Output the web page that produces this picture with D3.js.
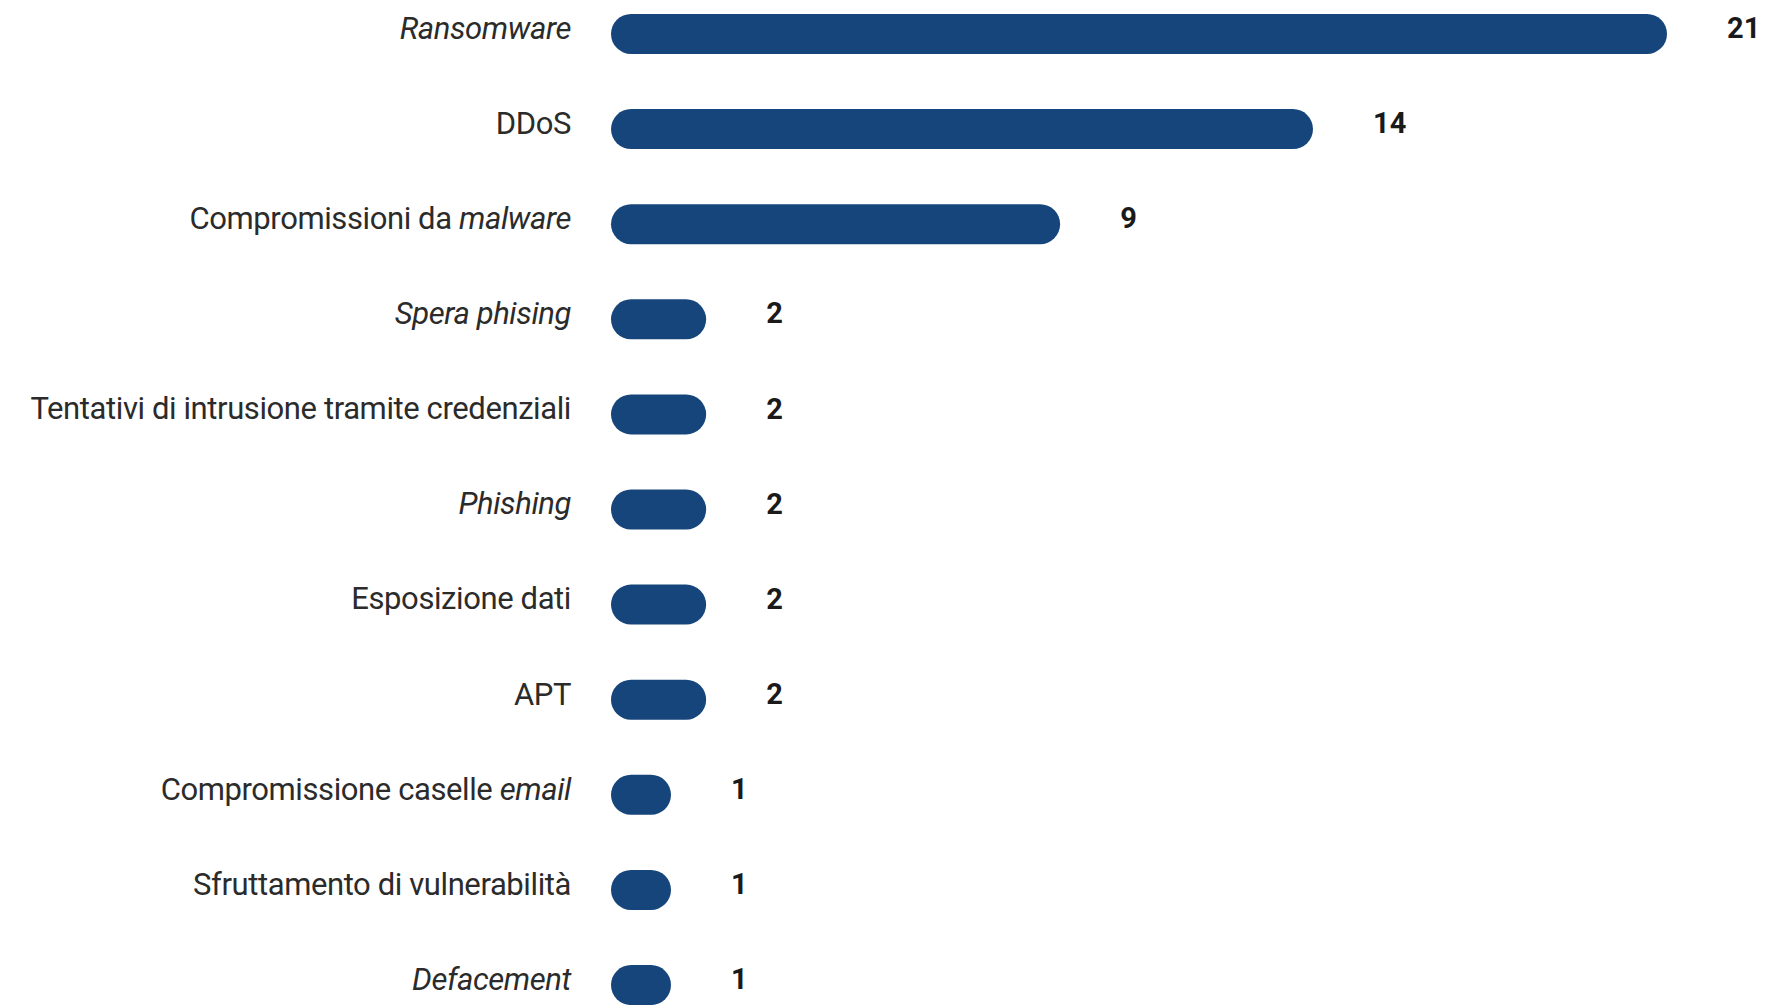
<!DOCTYPE html>
<html>
<head>
<meta charset="utf-8">
<script src="https://cdn.jsdelivr.net/npm/d3@7"></script>
<style>
  html, body { margin: 0; padding: 0; background: #fff; }
  svg { display: block; }
  .label { font-family: "Roboto", sans-serif; fill: #2b2b2b; letter-spacing: -0.4px; }
  .value { font-family: "Roboto", sans-serif; font-weight: bold; fill: #1a1a1a; }
</style>
</head>
<body>
<svg id="chart"></svg>
<script>
// categories, *word* = italic
const categories = [
  "*Ransomware*",
  "DDoS",
  "Compromissioni da *malware*",
  "*Spera phising*",
  "Tentativi di intrusione tramite credenziali",
  "*Phishing*",
  "Esposizione dati",
  "APT",
  "Compromissione caselle *email*",
  "Sfruttamento di vulnerabilità",
  "*Defacement*"
]
const values = [21, 14, 9, 2, 2, 2, 2, 2, 1, 1, 1]

const width = 1765, height = 1005
const left = 611, labelX = 571
const barH = 40

const svg = d3.select("#chart")
  .attr("width", width)
  .attr("height", height)

let x = d3.scaleLinear()
  .domain([0, 21])
  .range([0, 1062])

let y = d3.scaleBand()
  .domain(categories)
  .range([14, 1005])
  .paddingInner(0.58)
  .paddingOuter(0)

// rounded caps need a minimum length
let barW = (v) => Math.max(x(v) - 6, barH * 1.5)

let row = svg.selectAll("g.row")
  .data(categories.map((c, i) => ({ name: c, value: values[i] })))
  .enter()
  .append("g")
  .attr("class", "row")
  .attr("transform", (d) => "translate(0," + (y(d.name) + y.bandwidth() / 2) + ")")

row.append("rect")
  .attr("x", left)
  .attr("y", -barH / 2)
  .attr("width", (d) => barW(d.value))
  .attr("height", barH)
  .attr("rx", barH / 2)
  .attr("fill", "#16457b")

let label = row.append("text")
  .attr("class", "label")
  .attr("x", labelX)
  .attr("y", -6)
  .attr("dy", ".35em")
  .attr("text-anchor", "end")
  .style("font-size", "31px")

label.each(function (d) {
  let t = d3.select(this)
  d.name.split(/(\*[^*]+\*)/).filter((s) => s.length).forEach((s) => {
    let it = s.startsWith("*")
    t.append("tspan")
      .style("font-style", it ? "italic" : "normal")
      .text(it ? s.slice(1, -1) : s)
  })
})

row.append("text")
  .attr("class", "value")
  .attr("x", (d) => left + barW(d.value) + 60)
  .attr("y", -6)
  .attr("dy", ".35em")
  .style("font-size", "29px")
  .text((d) => d.value)
</script>
</body>
</html>
